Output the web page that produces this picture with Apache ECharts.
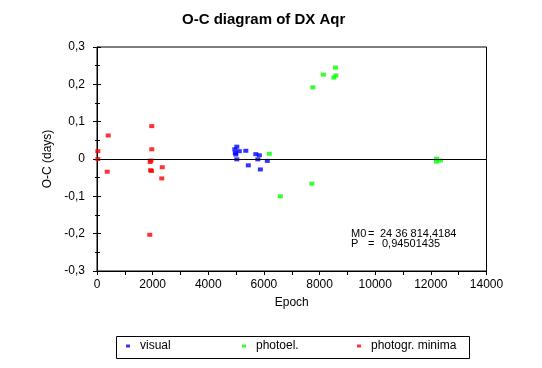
<!DOCTYPE html>
<html>
<head>
<meta charset="utf-8">
<script src="https://cdn.jsdelivr.net/npm/echarts@6/dist/echarts.min.js"></script>
<style>
html,body{margin:0;padding:0;background:#fff;}
#chart{width:542px;height:368px;}
</style>
</head>
<body>
<div id="chart"></div>
<script>
// Data: [epoch, O-C (days)]
const visual = [[5025,0.033],[4953,0.026],[5115,0.021],[5349,0.022],[4971,0.016],[4990,0.012],[5025,-0.001],[5709,0.013],[5835,0.010],[5781,-0.001],[6122,-0.005],[5439,-0.017],[5871,-0.028]];
const photoel = [[6194,0.014],[7723,-0.066],[6590,-0.100],[8568,0.245],[8137,0.226],[8586,0.224],[8514,0.218],[7759,0.192],[12201,0.001],[12201,-0.007],[12345,-0.004]];
const photogrMinima = [[30,0.021],[30,0.000],[403,0.063],[367,-0.034],[1968,0.088],[1968,0.026],[1910,-0.008],[1940,-0.004],[1925,-0.030],[1960,-0.032],[2345,-0.022],[2327,-0.052],[1896,-0.203]];
const seriesNames = ['visual','photoel.','photogr. minima'];
const seriesColors = ['#0000ff','#00ff00','#ff0000'];
const xRange = [0,14000];
const yRange = [-0.3,0.3];

const FONT = "'Liberation Sans', Arial, sans-serif";
const chart = echarts.init(document.getElementById('chart'), null, {renderer:'canvas'});
const fmtY = v => { const r = Math.round(v*10)/10; return r === 0 ? '0' : r.toFixed(1).replace('.', ','); };

function sc(name, data, color){
  return {
    name, type:'scatter', data, symbol:'rect', symbolSize:[5,4],
    itemStyle:{color}, xAxisIndex:0, yAxisIndex:0, silent:true
  };
}
const series = [
  sc(seriesNames[0], visual, seriesColors[0]),
  sc(seriesNames[1], photoel, seriesColors[1]),
  sc(seriesNames[2], photogrMinima, seriesColors[2])
];
series[0].markLine = {
  silent:true, symbol:['none','none'], label:{show:false},
  lineStyle:{color:'#000', width:1, type:'solid'},
  data:[{yAxis:0}], animation:false
};

const yCommon = {
  type:'value', min:yRange[0], max:yRange[1], interval:0.1,
  splitLine:{show:false}, position:'left'
};

const legendLefts = [126, 242, 357];
const legends = seriesNames.map((n, i) => ({
  left:legendLefts[i], top:340, padding:0,
  data:[n], icon:'rect', itemWidth:4, itemHeight:3,
  selectedMode:false,
  textStyle:{fontFamily:FONT, fontSize:12, color:'#000', padding:[0,0,0,5]}
}));

chart.setOption({
  animation:false,
  backgroundColor:'#fff',
  title:{
    text:'O-C diagram of DX Aqr', left:177, top:7,
    textStyle:{fontFamily:FONT, fontSize:15, fontWeight:'bold', color:'#000'}
  },
  grid:{left:97, right:55.5, top:47, bottom:97, show:true, borderColor:'#000', borderWidth:1, backgroundColor:'transparent'},
  legend:legends,
  xAxis:{
    type:'value', min:xRange[0], max:xRange[1], interval:2000,
    name:'Epoch', nameLocation:'middle', nameGap:26,
    nameTextStyle:{fontFamily:FONT, fontSize:12, color:'#000'},
    axisLine:{onZero:false, lineStyle:{color:'#000', width:1}},
    axisTick:{show:true, length:4, lineStyle:{color:'#000'}},
    minorTick:{show:true, splitNumber:2, length:4, lineStyle:{color:'#000'}},
    axisLabel:{fontFamily:FONT, fontSize:12, color:'#000', margin:8, formatter:v=>String(v)},
    splitLine:{show:false}
  },
  yAxis:[
    Object.assign({}, yCommon, {
      name:'O-C (days)', nameLocation:'middle', nameGap:32,
      nameTextStyle:{fontFamily:FONT, fontSize:12, color:'#000'},
      axisLine:{onZero:false, lineStyle:{color:'#000', width:1}},
      axisTick:{show:true, length:4, lineStyle:{color:'#000'}},
      minorTick:{show:true, splitNumber:2, length:2, lineStyle:{color:'#000'}},
      axisLabel:{fontFamily:FONT, fontSize:12, color:'#000', margin:12, formatter:fmtY}
    }),
    Object.assign({}, yCommon, {
      axisLine:{show:false, onZero:false},
      axisTick:{show:true, inside:true, length:4, lineStyle:{color:'#000'}},
      minorTick:{show:true, splitNumber:2, length:3, lineStyle:{color:'#000'}},
      axisLabel:{show:false}
    })
  ],
  graphic:[
    {type:'rect', left:114, top:334, shape:{width:353, height:22}, style:{fill:'none', stroke:'#000', lineWidth:1}},
    {type:'text', left:351, top:228, style:{text:'M0', font:"11px "+FONT, fill:'#000'}},
    {type:'text', left:368, top:228, style:{text:'=', font:"11px "+FONT, fill:'#000'}},
    {type:'text', left:380, top:228, style:{text:'24 36 814,4184', font:"11px "+FONT, fill:'#000'}},
    {type:'text', left:351, top:238, style:{text:'P', font:"11px "+FONT, fill:'#000'}},
    {type:'text', left:368, top:238, style:{text:'=', font:"11px "+FONT, fill:'#000'}},
    {type:'text', left:382, top:238, style:{text:'0,94501435', font:"11px "+FONT, fill:'#000'}}
  ],
  series
});
</script>
</body>
</html>
